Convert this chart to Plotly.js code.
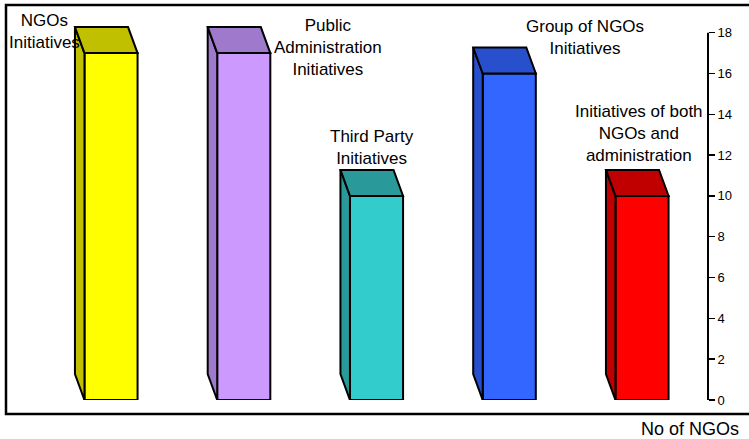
<!DOCTYPE html>
<html>
<head>
<meta charset="utf-8">
<script src="https://cdn.plot.ly/plotly-3.0.1.min.js"></script>
<style>html,body{margin:0;padding:0;background:#fff;}#chart{width:749px;height:439px;}</style>
</head>
<body>
<div id="chart"></div>
<script>
// Data
var categories = ["NGOs\nInitiatives", "Public\nAdministration\nInitiatives", "Third Party\nInitiatives", "Group of NGOs\nInitiatives", "Initiatives of both\nNGOs and\nadministration"];
var values = [17, 17, 10, 16, 10];
var frontColors = ["#FFFF00", "#CC99FF", "#33CCCC", "#3366FF", "#FF0000"];
var shadeColors = ["#C0C000", "#9F79CC", "#2A9999", "#2850CC", "#C00000"];
var yTicks = [0, 2, 4, 6, 8, 10, 12, 14, 16, 18];
var axisTitle = "No of NGOs";

// Style / geometry
var W = 749, H = 439;
var mL = 6, mR = 41, mT = 0, mB = 39;
var pw = W - mL - mR, ph = H - mT - mB;
var xr = [-0.791, -0.791 + pw / 132.75];
var yr = [0, 19.6];
var barW = 0.4, dx = -0.0716, dy = 1.274;

var xs = values.map(function (v, i) { return i; });
var traces = [];
// front faces
traces.push({
  type: "bar", x: xs, y: values, width: barW,
  marker: {color: frontColors, line: {color: "#000", width: 2}},
  hoverinfo: "skip", showlegend: false
});
// 3D faces
values.forEach(function (v, i) {
  var l = i - barW / 2, r = i + barW / 2;
  traces.push({
    type: "scatter", mode: "lines", fill: "toself", fillcolor: shadeColors[i],
    x: [l, l, l + dx, l + dx, l], y: [0, v, v + dy, dy, 0],
    line: {color: "#000", width: 2}, hoverinfo: "skip", showlegend: false
  });
  traces.push({
    type: "scatter", mode: "lines", fill: "toself", fillcolor: shadeColors[i],
    x: [l, r, r + dx, l + dx, l], y: [v, v, v + dy, v + dy, v],
    line: {color: "#000", width: 2}, hoverinfo: "skip", showlegend: false
  });
});

function px2x(p) { return (p - mL) / pw; }
function py2y(p) { return (H - mB - p) / ph; }

// label centers (pixels)
var labelPos = [[44, 32], [328, 47.5], [372, 147], [585, 38], [639, 133]];
var annotations = categories.map(function (c, i) {
  return {
    text: c.split("\n").join("<br>"), xref: "paper", yref: "paper",
    x: px2x(labelPos[i][0]), y: py2y(labelPos[i][1]),
    xanchor: "center", yanchor: "middle", showarrow: false,
    font: {family: "Liberation Sans, Arial, sans-serif", size: 17, color: "#000"}
  };
});
annotations.push({
  text: axisTitle, xref: "paper", yref: "paper",
  x: px2x(690), y: py2y(429), xanchor: "center", yanchor: "middle", showarrow: false,
  font: {family: "Liberation Sans, Arial, sans-serif", size: 18, color: "#000"}
});

var layout = {
  width: W, height: H,
  margin: {l: mL, r: mR, t: mT, b: mB, pad: 0},
  paper_bgcolor: "#fff", plot_bgcolor: "rgba(0,0,0,0)",
  showlegend: false,
  xaxis: {range: xr, visible: false, fixedrange: true},
  yaxis: {
    range: yr, side: "right", tickvals: yTicks, ticktext: yTicks.map(String),
    ticks: "outside", ticklen: 6, tickwidth: 1.5, tickcolor: "#000",
    showline: false, showgrid: false, zeroline: false,
    tickfont: {family: "Liberation Sans, Arial, sans-serif", size: 13, color: "#000"},
    fixedrange: true
  },
  shapes: [
    {type: "line", xref: "paper", yref: "paper", x0: 1, x1: 1, y0: 0, y1: 18 / yr[1],
     line: {color: "#000", width: 2}},
    {type: "rect", xref: "paper", yref: "paper", x0: px2x(6), x1: px2x(755), y0: py2y(414), y1: py2y(5),
     line: {color: "#000", width: 2.5}, fillcolor: "rgba(0,0,0,0)"}
  ],
  annotations: annotations
};

Plotly.newPlot("chart", traces, layout, {displayModeBar: false, staticPlot: true});
</script>
</body>
</html>
